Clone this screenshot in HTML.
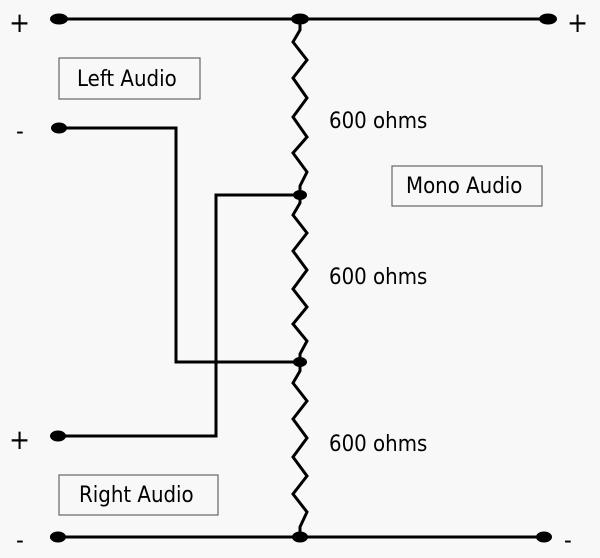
<!DOCTYPE html>
<html><head><style>
html,body{margin:0;padding:0;background:#f8f8f8;}
svg{display:block}
text{font-family:"DejaVu Sans Condensed","DejaVu Sans","Liberation Sans",sans-serif;font-size:22px;fill:#000}
</style></head><body>
<svg width="600" height="558" viewBox="0 0 600 558">
<rect width="600" height="558" fill="#f8f8f8"/>
<g stroke="#000" stroke-width="3" fill="none" stroke-linejoin="miter">
<line x1="58" y1="19" x2="549" y2="19"/>
<line x1="50" y1="537" x2="545" y2="537"/>
<polyline points="58,128 176,128 176,362 300,362"/>
<polyline points="58,436 216,436 216,195 300,195"/>
<polyline points="300,19 300,30 293,42 307,60 293,78 307,98 293,117 307,137 293,153 307,172 300,186 300,195 300,203 293,215 307,233 293,251 307,270 293,289 307,307 293,324 307,341 300,354 300,362 300,371 293,383 307,401 293,419 307,438 293,457 307,476 293,494 307,512 300,527 300,537"/>
</g>
<g fill="#000">
<ellipse cx="59" cy="19" rx="9" ry="5.5"/>
<ellipse cx="300" cy="19" rx="9" ry="5.5"/>
<ellipse cx="548" cy="19" rx="9" ry="5.5"/>
<ellipse cx="59" cy="128" rx="8" ry="5.5"/>
<ellipse cx="300" cy="195" rx="7" ry="5"/>
<ellipse cx="300" cy="362" rx="7" ry="5"/>
<ellipse cx="58" cy="436" rx="8" ry="5.5"/>
<ellipse cx="58" cy="537" rx="8" ry="5.5"/>
<ellipse cx="300" cy="537" rx="8" ry="5.5"/>
<ellipse cx="544" cy="537" rx="8" ry="5.5"/>
</g>
<g fill="#f8f8f8" stroke="#666" stroke-width="1.2">
<rect x="59" y="58" width="141" height="41"/>
<rect x="59" y="475" width="159" height="40"/>
<rect x="392" y="166" width="150" height="40"/>
</g>
<text x="77" y="86">Left Audio</text>
<text x="79" y="502">Right Audio</text>
<text x="406" y="193">Mono Audio</text>
<text x="329" y="128">600 ohms</text>
<text x="329" y="284">600 ohms</text>
<text x="329" y="451">600 ohms</text>
<text x="9" y="32" style="font-size:28px">+</text>
<text x="567" y="32" style="font-size:28px">+</text>
<text x="9" y="449" style="font-size:28px">+</text>
<text x="16" y="139" style="font-size:24px">-</text>
<text x="16" y="548" style="font-size:24px">-</text>
<text x="564" y="548" style="font-size:24px">-</text>
</svg>
</body></html>
